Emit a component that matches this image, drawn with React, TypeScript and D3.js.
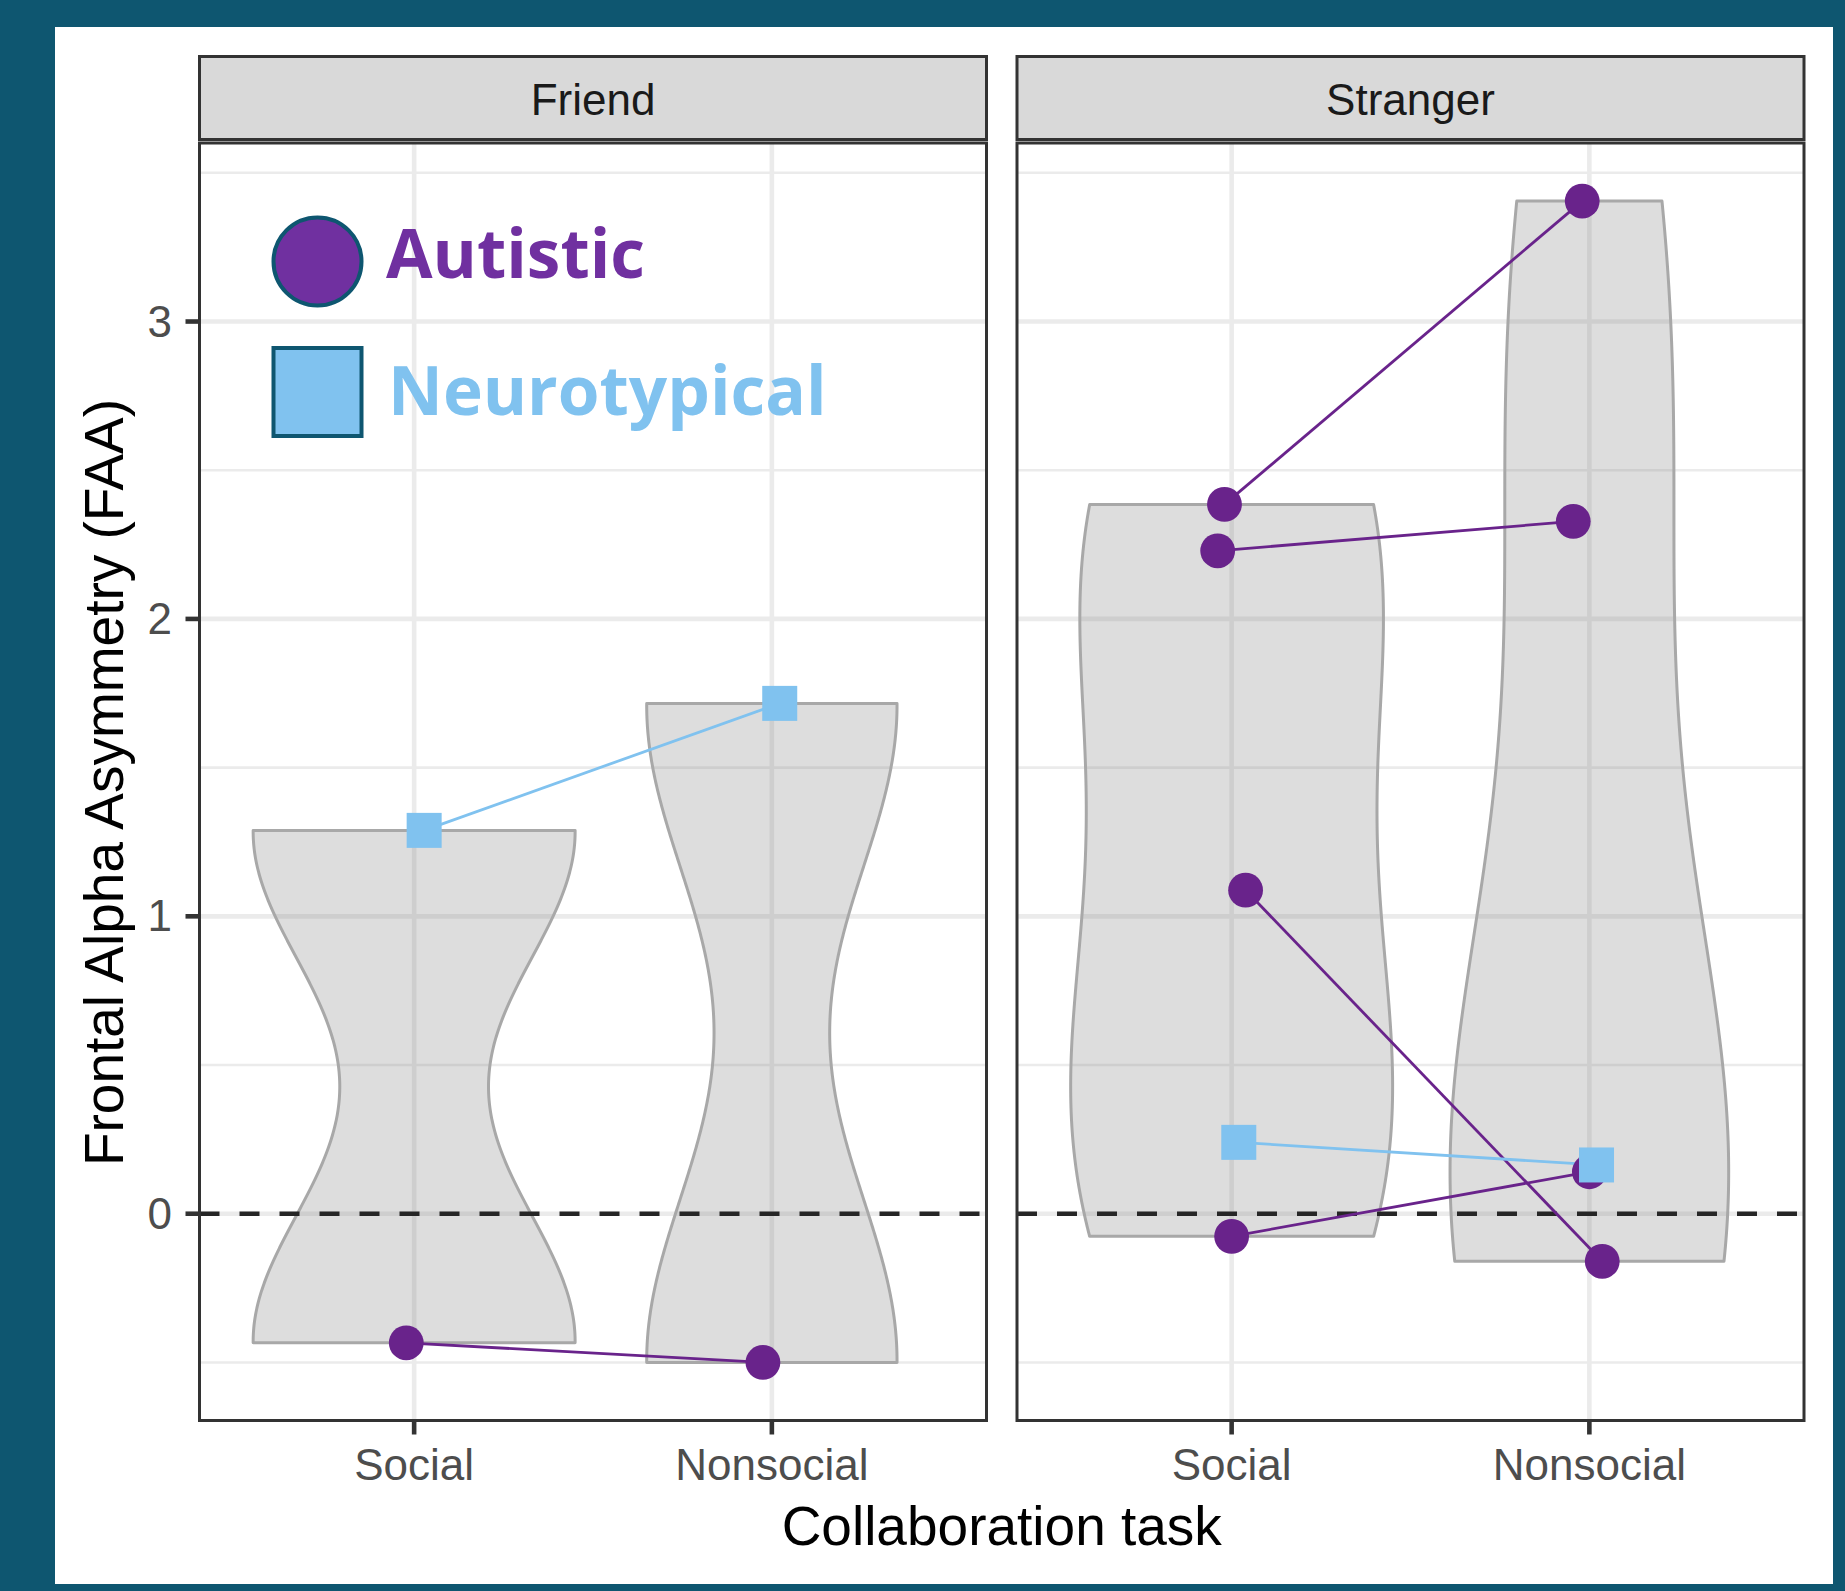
import React from "react";
import * as d3 from "d3";

// ---------------- data ----------------
const panels = ["Friend", "Stranger"];
const tasks = ["Social", "Nonsocial"];
const yTicks = [0, 1, 2, 3];
const yMinorTicks = [-0.5, 0.5, 1.5, 2.5, 3.5];

const participantPanel = ["Friend", "Friend", "Stranger", "Stranger", "Stranger", "Stranger", "Stranger"];
const participantGroup = ["Autistic", "Neurotypical", "Autistic", "Autistic", "Autistic", "Autistic", "Neurotypical"];
const socialFAA = [-0.434, 1.289, 2.385, 2.229, 1.088, -0.076, 0.24];
const nonsocialFAA = [-0.5, 1.716, 3.405, 2.328, -0.16, 0.141, 0.164];
const socialJitter = [-0.022, 0.028, -0.02, -0.039, 0.039, 0.0, 0.02];
const nonsocialJitter = [-0.025, 0.022, -0.02, -0.045, 0.036, 0.0, 0.02];

const legendLabels = ["Autistic", "Neurotypical"];

// ---------------- styling ----------------
const W = 1845;
const H = 1591;
const TEAL = "#0E5670";
const PURPLE = "#69238B";
const BLUE = "#80C2EF";
const LEG_PURPLE = "#7030A0";
const FONT = "'Liberation Sans', Arial, Helvetica, sans-serif";

const panelTop = 143;
const panelBottom = 1420.5;
const panelLefts = [199.5, 1017];
const panelWidth = 787;
const stripTop = 56.5;
const stripBottom = 139.5;

function bwNrd0(x: number[]) {
  const s = x.slice().sort((a, b) => a - b);
  const hi = d3.deviation(s) || 0;
  const iqr = (d3.quantile(s, 0.75) as number) - (d3.quantile(s, 0.25) as number);
  let lo = Math.min(hi, iqr / 1.34);
  if (!lo) lo = hi || Math.abs(s[0]) || 1;
  return 0.9 * lo * Math.pow(s.length, -0.2);
}

function kde(values: number[]) {
  const bw = bwNrd0(values);
  const [lo, hi] = d3.extent(values) as [number, number];
  const n = 512;
  const pts: { y: number; d: number }[] = [];
  for (let i = 0; i < n; i++) {
    const yy = lo + ((hi - lo) * i) / (n - 1);
    let s = 0;
    for (const v of values) {
      const z = (yy - v) / bw;
      s += Math.exp(-0.5 * z * z);
    }
    pts.push({ y: yy, d: s / (values.length * bw * Math.sqrt(2 * Math.PI)) });
  }
  return pts;
}

export default function App() {
  const all = [...socialFAA, ...nonsocialFAA];
  const [mn, mx] = d3.extent(all) as [number, number];
  const pad = 0.05 * (mx - mn);
  const y = d3.scaleLinear().domain([mn - pad, mx + pad]).range([panelBottom, panelTop]);

  const idx = d3.range(participantPanel.length);

  const panelEls = panels.map((p, pi) => {
    const left = panelLefts[pi];
    const x = d3.scaleLinear().domain([0.4, 2.6]).range([left, left + panelWidth]);
    const members = idx.filter((i) => participantPanel[i] === p);
    const taskVals = tasks.map((t) =>
      members.map((i) => (t === "Social" ? socialFAA[i] : nonsocialFAA[i]))
    );
    const dens = taskVals.map((v) => kde(v));
    const maxD = d3.max(dens.flat(), (d) => d.d) as number;
    const clipId = `clip-${pi}`;

    const violins = dens.map((pts, ti) => {
      const c = ti + 1;
      const area = d3
        .area<{ y: number; d: number }>()
        .x0((d) => x(c - (d.d / maxD) * 0.45))
        .x1((d) => x(c + (d.d / maxD) * 0.45))
        .y((d) => y(d.y))
        .curve(d3.curveLinear);
      return (
        <path
          key={`v${ti}`}
          d={area(pts) as string}
          fill="#808080"
          fillOpacity={0.27}
          stroke="#A8A8A8"
          strokeWidth={3}
          strokeLinejoin="round"
        />
      );
    });

    const line = d3
      .line<[number, number]>()
      .x((d) => d[0])
      .y((d) => d[1]);

    const orderedMembers = [
      ...members.filter((i) => participantGroup[i] === "Autistic"),
      ...members.filter((i) => participantGroup[i] !== "Autistic"),
    ];

    const lines = orderedMembers.map((i) => (
      <path
        key={`l${i}`}
        d={
          line([
            [x(1 + socialJitter[i]), y(socialFAA[i])],
            [x(2 + nonsocialJitter[i]), y(nonsocialFAA[i])],
          ]) as string
        }
        stroke={participantGroup[i] === "Autistic" ? PURPLE : BLUE}
        strokeWidth={2.8}
        fill="none"
      />
    ));

    const points = orderedMembers.flatMap((i) => {
      const pos: [number, number][] = [
        [x(1 + socialJitter[i]), y(socialFAA[i])],
        [x(2 + nonsocialJitter[i]), y(nonsocialFAA[i])],
      ];
      return pos.map(([px, py], k) =>
        participantGroup[i] === "Autistic" ? (
          <circle key={`p${i}-${k}`} cx={px} cy={py} r={17.4} fill={PURPLE} />
        ) : (
          <rect key={`p${i}-${k}`} x={px - 17.5} y={py - 17.5} width={35} height={35} fill={BLUE} />
        )
      );
    });

    return (
      <g key={p}>
        <defs>
          <clipPath id={clipId}>
            <rect x={left} y={panelTop} width={panelWidth} height={panelBottom - panelTop} />
          </clipPath>
        </defs>
        <rect x={left} y={panelTop} width={panelWidth} height={panelBottom - panelTop} fill="#fff" />
        <g clipPath={`url(#${clipId})`}>
          {yMinorTicks.map((t) => (
            <line key={`mi${t}`} x1={left} x2={left + panelWidth} y1={y(t)} y2={y(t)} stroke="#EBEBEB" strokeWidth={2.6} />
          ))}
          {yTicks.map((t) => (
            <line key={`ma${t}`} x1={left} x2={left + panelWidth} y1={y(t)} y2={y(t)} stroke="#EBEBEB" strokeWidth={4.6} />
          ))}
          {tasks.map((t, ti) => (
            <line key={`vx${t}`} x1={x(ti + 1)} x2={x(ti + 1)} y1={panelTop} y2={panelBottom} stroke="#EBEBEB" strokeWidth={4.6} />
          ))}
          {violins}
          <line x1={left} x2={left + panelWidth} y1={y(0)} y2={y(0)} stroke="#262626" strokeWidth={4.6} strokeDasharray="20 20" />
          {lines}
          {points}
        </g>
        <rect x={left} y={panelTop} width={panelWidth} height={panelBottom - panelTop} fill="none" stroke="#333333" strokeWidth={3} />
        {/* strip */}
        <rect x={left} y={stripTop} width={panelWidth} height={stripBottom - stripTop} fill="#D9D9D9" stroke="#333333" strokeWidth={3} />
        <text x={left + panelWidth / 2} y={114.5} textAnchor="middle" fontFamily={FONT} fontSize={44} fill="#1A1A1A">
          {p}
        </text>
        {/* x ticks */}
        {tasks.map((t, ti) => (
          <g key={`xt${t}`}>
            <line x1={x(ti + 1)} x2={x(ti + 1)} y1={panelBottom + 1.5} y2={panelBottom + 14} stroke="#333333" strokeWidth={4.6} />
            <text x={x(ti + 1)} y={1480} textAnchor="middle" fontFamily={FONT} fontSize={44} fill="#4D4D4D">
              {t}
            </text>
          </g>
        ))}
      </g>
    );
  });

  const left0 = panelLefts[0];

  return (
    <div style={{ position: "absolute", left: 0, top: 0 }}>
      <svg width={W} height={H} style={{ display: "block" }}>
        <rect x={0} y={0} width={W} height={H} fill={TEAL} />
        <rect x={55} y={27} width={1833 - 55} height={1584 - 27} fill="#FFFFFF" />
        {panelEls}
        {/* y ticks */}
        {yTicks.map((t) => (
          <g key={`yt${t}`}>
            <line x1={left0 - 14} x2={left0 - 1.5} y1={y(t)} y2={y(t)} stroke="#333333" strokeWidth={4.6} />
            <text x={172} y={y(t) + 15} textAnchor="end" fontFamily={FONT} fontSize={44} fill="#4D4D4D">
              {t}
            </text>
          </g>
        ))}
        {/* axis titles */}
        <text x={(panelLefts[0] + panelLefts[1] + panelWidth) / 2} y={1545} textAnchor="middle" fontFamily={FONT} fontSize={55} fill="#000">
          Collaboration task
        </text>
        <text transform={`translate(123, 782.5) rotate(-90)`} textAnchor="middle" fontFamily={FONT} fontSize={55} fill="#000">
          Frontal Alpha Asymmetry (FAA)
        </text>
        {/* legend */}
        <circle cx={317.5} cy={261.5} r={44} fill={LEG_PURPLE} stroke={TEAL} strokeWidth={4} />
        <rect x={273.5} y={348} width={88} height={88} fill={BLUE} stroke={TEAL} strokeWidth={4} />
        <text x={386} y={277.5} fontFamily="'Open Sans', sans-serif" fontWeight={700} fontSize={67.5} fill={LEG_PURPLE}>
          {legendLabels[0]}
        </text>
        <text x={388} y={415} fontFamily="'Open Sans', sans-serif" fontWeight={700} fontSize={67.5} fill={BLUE}>
          {legendLabels[1]}
        </text>
      </svg>
    </div>
  );
}
